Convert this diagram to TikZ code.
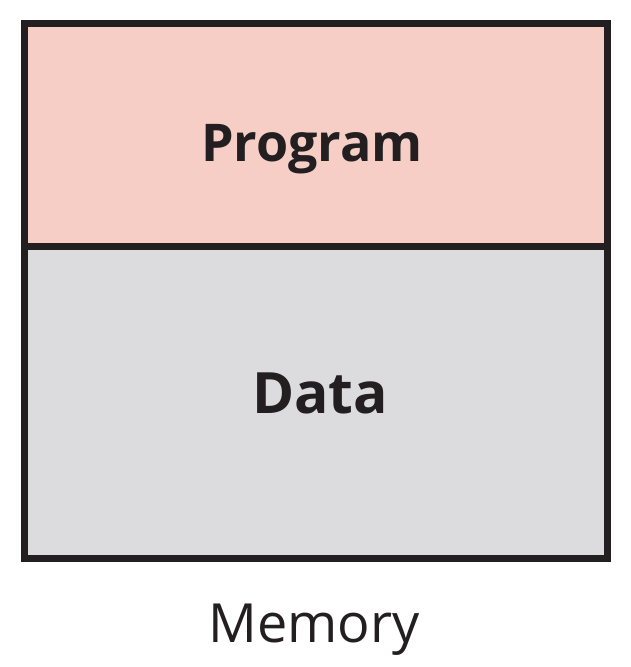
\documentclass[tikz,border=0pt]{standalone}
\usepackage{fontspec}
\setmainfont{Open Sans}
\usepackage{tikz}
\usetikzlibrary{positioning}

\definecolor{progfill}{HTML}{F6CEC6}
\definecolor{datafill}{HTML}{DCDCDE}
\definecolor{edge}{HTML}{231F20}

\begin{document}
\begin{tikzpicture}[x=1pt, y=1pt,
				   every node/.style={inner sep=0pt, text=edge, anchor=base},
				   part/.style={draw=edge, line width=7pt}]
\useasboundingbox (0,0) rectangle (631,667);
\coordinate (TL) at (24.5,643.5);
\coordinate (BR) at (607.3,108.7);
\coordinate (ML) at (24.5,420.5);
\coordinate (MR) at (607.3,420.5);

\fill[progfill] (TL) rectangle (MR);
\fill[datafill] (ML) rectangle (BR);
\draw[part] (ML) -- (MR);
\draw[part] (TL) rectangle (BR);

\node[font=\bfseries\fontsize{52}{60}\selectfont] (P) at (312,505) {Program};
\node[font=\bfseries\fontsize{57}{64}\selectfont] (D) at (320,253.7) {Data};
\node[font=\fontsize{54}{62}\selectfont] (M) at (314,24) {Memory};
\end{tikzpicture}
\end{document}
